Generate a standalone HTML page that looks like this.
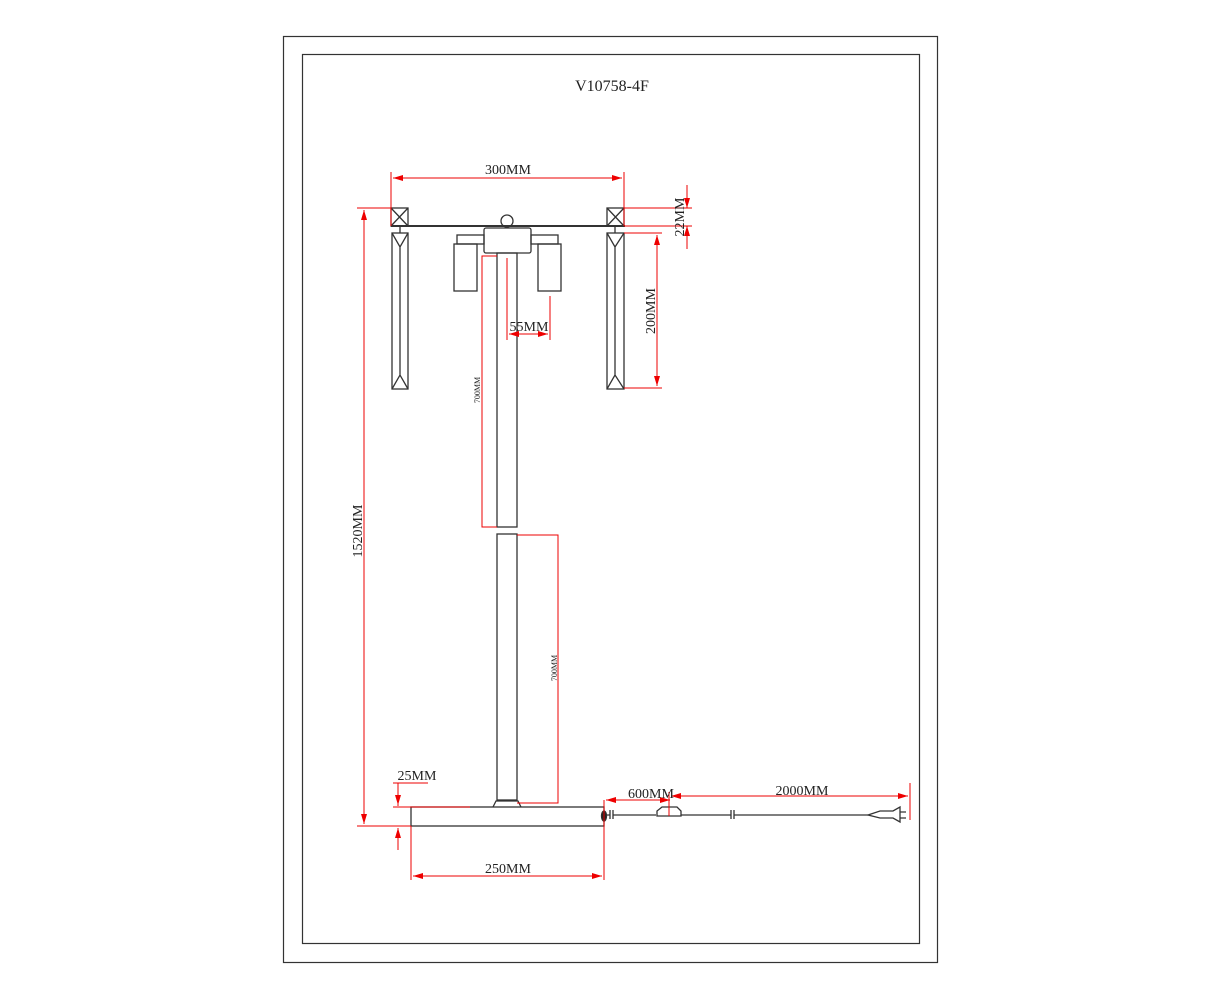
<!DOCTYPE html>
<html><head><style>body{margin:0;background:#fff}svg{display:block}text{font-family:"Liberation Serif",serif;fill:#222}</style></head><body>
<svg width="1223" height="1000" viewBox="0 0 1223 1000" xmlns="http://www.w3.org/2000/svg">
<defs>
<marker id="a" viewBox="0 0 10 6" refX="10" refY="3" markerWidth="10" markerHeight="6" orient="auto-start-reverse" markerUnits="userSpaceOnUse"><path d="M0,0L10,3L0,6z" fill="#e00"/></marker>
</defs>
<rect x="283.5" y="36.5" width="654" height="926" fill="none" stroke="#333" stroke-width="1.2"/>
<rect x="302.5" y="54.5" width="617" height="889" fill="none" stroke="#333" stroke-width="1.2"/>
<text x="612" y="91" font-size="16" text-anchor="middle">V10758-4F</text>
<g fill="none" stroke="#333" stroke-width="1.3">
<rect x="391" y="208" width="17" height="18"/><path d="M391 208L408 226M408 208L391 226"/>
<rect x="607" y="208" width="17" height="18"/><path d="M607 208L624 226M624 208L607 226"/>
<path d="M391 226H625" stroke-width="2"/>
<rect x="392" y="233" width="16" height="156"/><path d="M392 233L400 247L408 233M392 389L400 375L408 389M400 247V375M400 226V233"/>
<rect x="607" y="233" width="17" height="156"/><path d="M607 233L615 247L624 233M607 389L615 375L624 389M615 247V375M615 226V233"/>
<circle cx="507" cy="221" r="6"/>
<rect x="484" y="228" width="47" height="25" rx="2"/>
<rect x="457" y="235" width="27" height="9"/><rect x="454" y="244" width="23" height="47"/>
<rect x="531" y="235" width="27" height="9"/><rect x="538" y="244" width="23" height="47"/>
<rect x="497" y="253" width="20" height="274"/>
<rect x="497" y="534" width="20" height="266"/>
<path d="M493 807L496 801H518L521 807"/>
<rect x="411" y="807" width="193" height="19"/>
<ellipse cx="604" cy="816" rx="2.5" ry="5" fill="#222"/>
<path d="M606 815H610M613 815H656M681 815H731M734 815H868M610 810V819M613 810V819M731 810V819M734 810V819"/>
<path d="M657 816V811L662 807H677L681 811V816Z"/>
<path d="M868 815L880 811H893L900 807V822L893 818H880Z"/><path d="M900 812H906M900 818H906"/>
</g>
<g stroke="#e00" stroke-width="1" fill="none">
<path d="M391 172V226M624 172V226"/>
<path d="M393 178H622" marker-start="url(#a)" marker-end="url(#a)"/>
<path d="M624 208H692M624 226H692"/>
<path d="M687 185V208" marker-end="url(#a)"/><path d="M687 249V226" marker-end="url(#a)"/>
<path d="M624 233H662M624 388H662"/>
<path d="M657 235V386" marker-start="url(#a)" marker-end="url(#a)"/>
<path d="M507 258V340M550 296V340"/>
<path d="M509 334H548" marker-start="url(#a)" marker-end="url(#a)"/>
<path d="M357 208H391M357 826H411"/>
<path d="M364 210V824" marker-start="url(#a)" marker-end="url(#a)"/>
<path d="M497 256H482V527H497"/>
<path d="M517 535H558V803H517"/>
<path d="M393 783H428M398 783V806"/><path d="M398 783V805" marker-end="url(#a)"/>
<path d="M398 850V828" marker-end="url(#a)"/>
<path d="M393 807H470"/>
<path d="M411 826V880M604 800V880"/>
<path d="M413 876H602" marker-start="url(#a)" marker-end="url(#a)"/>
<path d="M606 800H670" marker-start="url(#a)" marker-end="url(#a)"/>
<path d="M669 792V816M910 783V820"/>
<path d="M671 796H908" marker-start="url(#a)" marker-end="url(#a)"/>
</g>
<g font-size="14">
<text x="508" y="174" text-anchor="middle">300MM</text>
<text x="529" y="331" text-anchor="middle">55MM</text>
<text x="417" y="780" text-anchor="middle">25MM</text>
<text x="508" y="873" text-anchor="middle">250MM</text>
<text x="651" y="798" text-anchor="middle">600MM</text>
<text x="802" y="795" text-anchor="middle">2000MM</text>
<text transform="translate(684,217) rotate(-90)" text-anchor="middle">22MM</text>
<text transform="translate(655,311) rotate(-90)" text-anchor="middle">200MM</text>
<text transform="translate(362,531) rotate(-90)" text-anchor="middle">1520MM</text>
<text transform="translate(480,390) rotate(-90)" text-anchor="middle" font-size="8">700MM</text>
<text transform="translate(557,668) rotate(-90)" text-anchor="middle" font-size="8">700MM</text>
</g>
</svg>
</body></html>
